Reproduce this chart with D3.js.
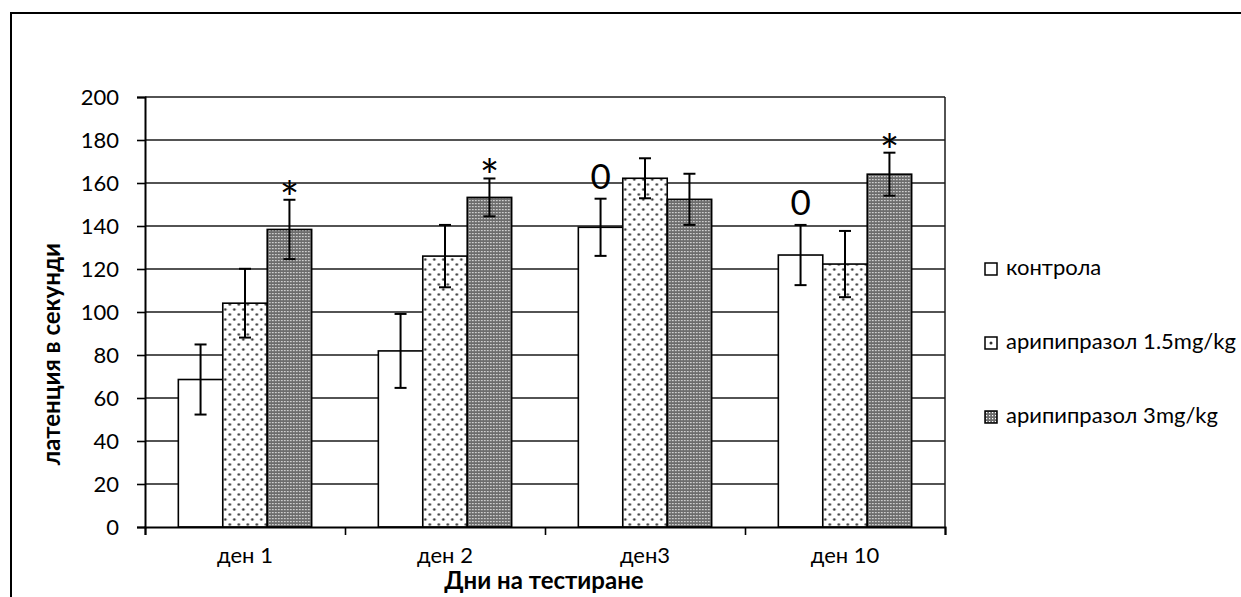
<!DOCTYPE html>
<html>
<head>
<meta charset="utf-8">
<script src="https://cdn.jsdelivr.net/npm/d3@7"></script>
<style>
  body { margin: 0; background: #fff; }
  text { font-family: Lato, Carlito, "Open Sans", sans-serif; }
</style>
</head>
<body>
<div id="viz_tool"></div>
<script>
// Data
var days = ["ден 1", "ден 2", "ден3", "ден 10"];
var seriesNames = ["контрола", "арипипразол 1.5mg/kg", "арипипразол 3mg/kg"];
var control = [68.6, 81.9, 139.4, 126.5];
var controlErr = [16.3, 17.2, 13.3, 14.0];
var arip15 = [104.1, 126.0, 162.2, 122.3];
var arip15Err = [16.0, 14.5, 9.3, 15.4];
var arip3 = [138.4, 153.3, 152.4, 164.1];
var arip3Err = [13.8, 8.8, 11.9, 10.0];
var yTicks = [0, 20, 40, 60, 80, 100, 120, 140, 160, 180, 200];
// significance marks: day index, series index, symbol
var marks = [[0, 2, "*"], [1, 2, "*"], [2, 0, "0"], [3, 0, "0"], [3, 2, "*"]];

var values = [control, arip15, arip3];
var errors = [controlErr, arip15Err, arip3Err];
var fills = ["#fff", "url(#dots)", "url(#dark)"];
var legendFills = ["#fff", "url(#dot1)", "url(#dark)"];

draw_chart("#viz_tool");

function draw_chart(ref) {
    var W = 1241, H = 597;
    var margin = {top: 97, right: 296, bottom: 70, left: 145};
    var width = W - margin.left - margin.right,   // 800
        height = 527 - margin.top;                // 430

    var root = d3.select(ref).append("svg")
        .attr("width", W)
        .attr("height", H);

    /* patterns for the bar fills */
    var defs = root.append("defs");
    var dots = defs.append("pattern")
        .attr("id", "dots")
        .attr("patternUnits", "userSpaceOnUse")
        .attr("width", 9).attr("height", 10);
    dots.append("rect").attr("width", 9).attr("height", 10).attr("fill", "#fff");
    dots.append("circle").attr("cx", 2).attr("cy", 2.5).attr("r", 1.3).attr("fill", "#3a3a3a");
    dots.append("circle").attr("cx", 6.5).attr("cy", 7.5).attr("r", 1.3).attr("fill", "#3a3a3a");

    // legend swatch version: one dot in the middle
    var dot1 = defs.append("pattern")
        .attr("id", "dot1")
        .attr("patternUnits", "objectBoundingBox")
        .attr("width", 1).attr("height", 1);
    dot1.append("rect").attr("width", 12).attr("height", 12).attr("fill", "#fff");
    dot1.append("circle").attr("cx", 6).attr("cy", 6).attr("r", 1.5).attr("fill", "#333");

    var dark = defs.append("pattern")
        .attr("id", "dark")
        .attr("patternUnits", "userSpaceOnUse")
        .attr("width", 3).attr("height", 3);
    dark.append("rect").attr("width", 3).attr("height", 3).attr("fill", "#6c6c6c");
    dark.append("rect").attr("x", 1).attr("y", 1).attr("width", 1.2).attr("height", 1.2).attr("fill", "#fff");

    // outer frame (runs off the right and bottom edges)
    root.append("rect")
        .attr("x", 11).attr("y", 13)
        .attr("width", 1300).attr("height", 700)
        .attr("fill", "none")
        .attr("stroke", "#000")
        .attr("stroke-width", 2);

    var svg = root.append("g")
        .attr("transform", "translate(" + margin.left + "," + margin.top + ")");

    /* Setup scales */
    var x0 = d3.scaleBand().domain(days).range([0, width]);
    var groupW = x0.bandwidth() * 2 / 3;
    var x1 = d3.scaleBand().domain(d3.range(seriesNames.length)).range([0, groupW]);
    var yScale = d3.scaleLinear().domain([0, 200]).range([height, 0]);
    var xTickScale = d3.scaleLinear().domain([0, days.length]).range([0, width]);

    // gridlines (behind bars)
    svg.append("g")
        .selectAll("line")
        .data(yTicks.slice(1))
        .enter().append("line")
        .attr("x1", 0).attr("x2", width)
        .attr("y1", function(d) { return yScale(d); })
        .attr("y2", function(d) { return yScale(d); })
        .attr("stroke", "#1a1a1a")
        .attr("stroke-width", 1.5);

    // right border of plot area
    svg.append("line")
        .attr("x1", width).attr("x2", width)
        .attr("y1", 0).attr("y2", height)
        .attr("stroke", "#1a1a1a")
        .attr("stroke-width", 1.5);

    // bars
    var groups = svg.selectAll(".day")
        .data(days)
        .enter().append("g")
        .attr("class", "day")
        .attr("transform", function(d) {
            return "translate(" + (x0(d) + (x0.bandwidth() - groupW) / 2) + ",0)";
        });

    var cells = function(d, i) {
        return values.map(function(v, s) { return {s: s, v: v[i], e: errors[s][i]}; });
    };

    groups.selectAll("rect")
        .data(cells)
        .enter().append("rect")
        .attr("x", function(d) { return x1(d.s); })
        .attr("y", function(d) { return yScale(d.v); })
        .attr("width", x1.bandwidth())
        .attr("height", function(d) { return height - yScale(d.v); })
        .attr("fill", function(d) { return fills[d.s]; })
        .attr("stroke", "#000")
        .attr("stroke-width", 1.6);

    // error bars
    var err = groups.selectAll(".err")
        .data(cells)
        .enter().append("g")
        .attr("class", "err")
        .attr("stroke", "#000")
        .attr("stroke-width", 2);
    var cx = function(d) { return x1(d.s) + x1.bandwidth() / 2; };
    err.append("line")
        .attr("x1", cx).attr("x2", cx)
        .attr("y1", function(d) { return yScale(d.v + d.e); })
        .attr("y2", function(d) { return yScale(d.v - d.e); });
    [1, -1].forEach(function(sign) {
        err.append("line")
            .attr("x1", function(d) { return cx(d) - 6; })
            .attr("x2", function(d) { return cx(d) + 6; })
            .attr("y1", function(d) { return yScale(d.v + sign * d.e); })
            .attr("y2", function(d) { return yScale(d.v + sign * d.e); });
    });

    // significance marks
    svg.selectAll(".mark")
        .data(marks)
        .enter().append("text")
        .attr("class", "mark")
        .attr("x", function(d) { return x0(days[d[0]]) + (x0.bandwidth() - groupW) / 2 + x1(d[1]) + x1.bandwidth() / 2; })
        .attr("y", function(d) {
            var top = yScale(values[d[1]][d[0]] + errors[d[1]][d[0]]);
            return d[2] == "*" ? top + 15 : top - 10;
        })
        .attr("text-anchor", "middle")
        .attr("font-size", function(d) { return d[2] == "*" ? "46px" : "35px"; })
        .text(function(d) { return d[2]; });

    // Setup axis
    var yAxis = svg.append("g")
        .call(d3.axisLeft(yScale).tickValues(yTicks).tickSize(8).tickPadding(18));
    yAxis.select(".domain").attr("stroke-width", 2);
    yAxis.selectAll(".tick line").attr("stroke-width", 1.6);
    yAxis.selectAll("text").attr("font-size", "22px").attr("fill", "#000")
        .attr("font-family", "Lato, Carlito, sans-serif");

    var xAxis = svg.append("g")
        .attr("transform", "translate(0," + height + ")")
        .call(d3.axisBottom(xTickScale).ticks(days.length).tickSize(8).tickFormat(""));
    xAxis.select(".domain").attr("stroke-width", 2);
    xAxis.selectAll(".tick line").attr("stroke-width", 1.6);

    // category labels
    svg.append("g")
        .selectAll("text")
        .data(days)
        .enter().append("text")
        .attr("x", function(d) { return x0(d) + x0.bandwidth() / 2; })
        .attr("y", height + 36)
        .attr("text-anchor", "middle")
        .attr("font-size", "22px")
        .text(function(d) { return d; });

    // axis titles
    root.append("text")
        .attr("transform", "translate(60,354) rotate(-90)")
        .attr("text-anchor", "middle")
        .attr("font-size", "24px")
        .attr("font-weight", "bold")
        .text("латенция в секунди");

    root.append("text")
        .attr("x", 544)
        .attr("y", 589)
        .attr("text-anchor", "middle")
        .attr("font-size", "24px")
        .attr("font-weight", "bold")
        .text("Дни на тестиране");

    // legend
    var legend = root.append("g")
        .selectAll("g")
        .data(seriesNames)
        .enter().append("g")
        .attr("transform", function(d, i) { return "translate(985," + (275 + i * 74) + ")"; });
    legend.append("rect")
        .attr("x", 0).attr("y", -12)
        .attr("width", 12).attr("height", 12)
        .attr("fill", function(d, i) { return legendFills[i]; })
        .attr("stroke", "#000")
        .attr("stroke-width", 1.5);
    legend.append("text")
        .attr("x", 21)
        .attr("y", 0)
        .attr("font-size", "22px")
        .text(function(d) { return d; });
}
</script>
</body>
</html>
